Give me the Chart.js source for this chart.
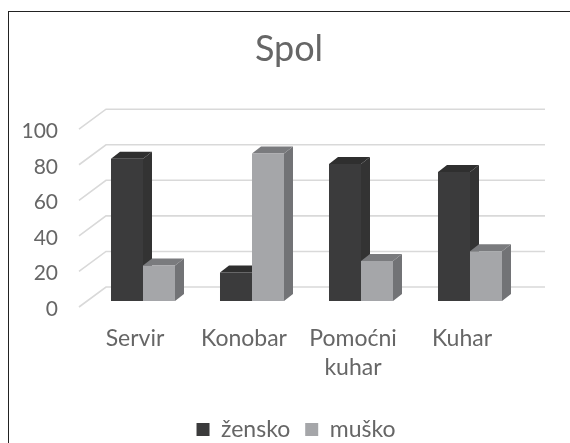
<!DOCTYPE html>
<html>
<head>
<meta charset="utf-8">
<script src="https://cdn.jsdelivr.net/npm/chart.js@4/dist/chart.umd.min.js"></script>
<style>
  html, body { margin: 0; padding: 0; background: #fff; overflow: hidden; }
  #wrap { position: absolute; left: 0; top: 0; width: 570px; height: 443px; overflow: hidden; }
  #frame { position: absolute; left: 8px; top: 11px; width: 570px; height: 440px; border-left: 1px solid #222; border-top: 1px solid #222; }
  canvas { position: absolute; left: 0; top: 0; filter: blur(0.4px); }
</style>
</head>
<body>
<div id="wrap">
  <canvas id="chart" width="570" height="443"></canvas>
  <div id="frame"></div>
</div>
<script>
const categories = ['Servir', 'Konobar', ['Pomoćni', 'kuhar'], 'Kuhar'];
const zensko = [80, 16, 77, 72.5];
const musko = [20, 83, 22.5, 28];
const yTicks = [0, 20, 40, 60, 80, 100];

const FONT = 'Lato, "Open Sans", sans-serif';
const TEXT = '#666666';

// fake 3D: wall offsets relative to the bar front plane
const WALL_BACK = { dx: 17.5, dy: -14 };
const WALL_FRONT = { dx: -9.5, dy: 6 };
const BAR_DEPTH = { dx: 9, dy: -7 };
const WALL_RIGHT = 545;

const sideColors = ['#333333', '#727376'];
const topColors = ['#2f2f2f', '#7a7b7e'];

function poly(ctx, pts, fill) {
  ctx.beginPath();
  pts.forEach((p, i) => (i ? ctx.lineTo(p[0], p[1]) : ctx.moveTo(p[0], p[1])));
  ctx.closePath();
  ctx.fillStyle = fill;
  ctx.fill();
}

const fake3d = {
  id: 'fake3d',
  afterLayout(chart) {
    // legend sits right of the title and low in the original
    chart.legend.left += 7;
    chart.legend.right += 7;
    chart.legend.top += 8;
    chart.legend.bottom += 8;
  },
  beforeDatasetsDraw(chart) {
    const { ctx, chartArea, scales } = chart;
    const left = chartArea.left;
    ctx.save();
    ctx.strokeStyle = '#d9d9d9';
    ctx.lineWidth = 1.6;
    yTicks.forEach((v) => {
      const y = scales.y.getPixelForValue(v);
      ctx.beginPath();
      ctx.moveTo(left + WALL_FRONT.dx, y + WALL_FRONT.dy);
      ctx.lineTo(left + WALL_BACK.dx, y + WALL_BACK.dy);
      ctx.lineTo(WALL_RIGHT, y + WALL_BACK.dy);
      ctx.stroke();
    });
    ctx.fillStyle = TEXT;
    ctx.font = '21px ' + FONT;
    ctx.textAlign = 'right';
    ctx.textBaseline = 'middle';
    yTicks.forEach((v) => {
      ctx.fillText(String(v), 58, scales.y.getPixelForValue(v) + 8);
    });
    // sides and tops go under the front faces, dark series first
    const d = BAR_DEPTH;
    [0, 1].forEach((i) => {
      chart.getDatasetMeta(i).data.forEach((bar) => {
        const p = bar.getProps(['x', 'y', 'base', 'width'], true);
        const l = p.x - p.width / 2;
        const r = p.x + p.width / 2;
        poly(ctx, [[r, p.y], [r + d.dx, p.y + d.dy], [r + d.dx, p.base + d.dy], [r, p.base]], sideColors[i]);
        poly(ctx, [[l, p.y], [l + d.dx, p.y + d.dy], [r + d.dx, p.y + d.dy], [r, p.y]], topColors[i]);
      });
    });
    ctx.restore();
  },
};

new Chart(document.getElementById('chart'), {
  type: 'bar',
  data: {
    labels: categories,
    datasets: [
      { label: 'žensko', data: zensko, backgroundColor: '#3b3b3c' },
      { label: 'muško', data: musko, backgroundColor: '#a5a6a9' },
    ],
  },
  plugins: [fake3d],
  options: {
    responsive: false,
    animation: false,
    layout: { padding: { left: 53.5, right: 45.5, top: 0, bottom: 0 } },
    datasets: { bar: { categoryPercentage: 0.5872, barPercentage: 1 } },
    scales: {
      x: {
        grid: { display: false },
        border: { display: false },
        afterFit(s) {
          s.height = 94;
          s.paddingLeft = 0;
          s.paddingRight = 0;
        },
        ticks: {
          color: TEXT,
          font: { family: FONT, size: 23, lineHeight: 1.26 },
          labelOffset: -8,
          maxRotation: 0,
          padding: 15,
        },
      },
      y: {
        min: 0,
        max: 100,
        grid: { display: false },
        border: { display: false },
        afterFit(s) {
          s.width = 35;
        },
        ticks: { display: false, stepSize: 20 },
      },
    },
    plugins: {
      title: {
        display: true,
        text: 'Spol',
        color: TEXT,
        font: { family: FONT, size: 36, weight: 'normal' },
        padding: { top: 28, bottom: 52 },
      },
      legend: {
        position: 'bottom',
        labels: {
          color: TEXT,
          font: { family: FONT, size: 23 },
          boxWidth: 13,
          boxHeight: 13,
          padding: 15,
        },
      },
      tooltip: { enabled: false },
    },
  },
});
</script>
</body>
</html>
